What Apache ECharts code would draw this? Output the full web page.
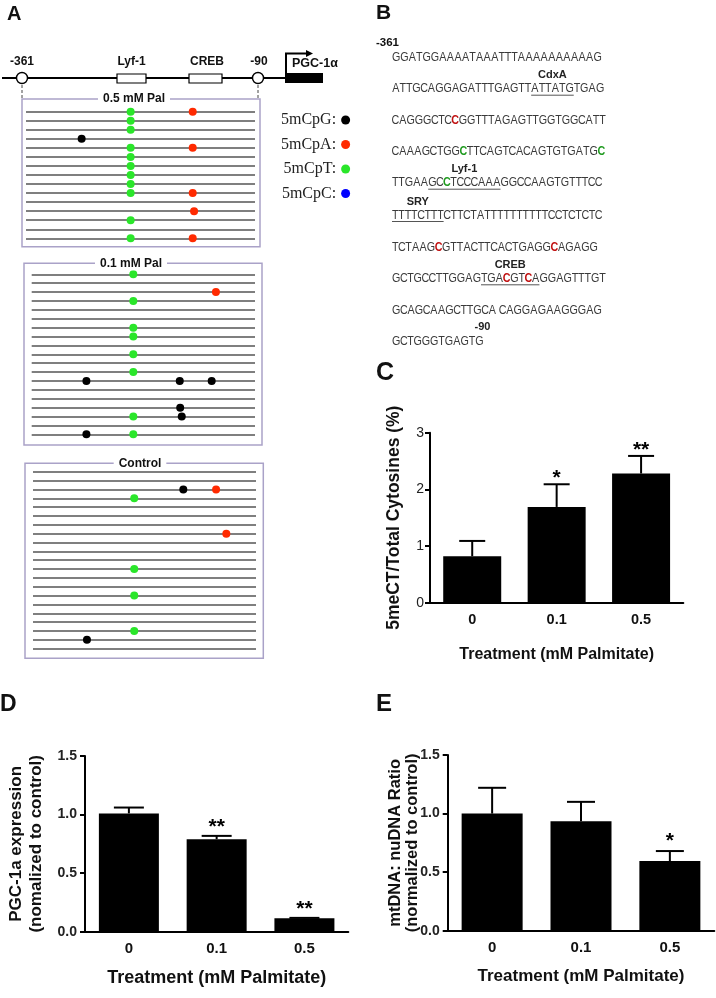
<!DOCTYPE html>
<html><head><meta charset="utf-8">
<script src="https://cdn.jsdelivr.net/npm/echarts@6/dist/echarts.min.js"></script>
<style>html,body{margin:0;padding:0;background:#fff}#c{width:716px;height:998px}</style>
</head><body><div id="c"></div>
<script>
// ---------------- DATA ----------------
const treatments = ['0', '0.1', '0.5'];
// Panel C: 5meCT / total cytosines (%)
const methPct = [0.82, 1.69, 2.28];
const methPctErr = [0.27, 0.40, 0.31];
const methPctStars = ['', '*', '**'];
// Panel D: PGC-1a expression
const pgcExpr = [1.01, 0.79, 0.114];
const pgcExprErr = [0.05, 0.028, 0.004];
const pgcExprStars = ['', '**', '**'];
// Panel E: mtDNA:nuDNA ratio
const mtRatio = [1.0, 0.935, 0.595];
const mtRatioErr = [0.22, 0.165, 0.085];
const mtRatioStars = ['', '', '*'];

// Panel A: methylated sites per clone  [relative position (0-100), clone row]
const siteTypes = ['5mCpG', '5mCpA', '5mCpT', '5mCpC'];
const boxTitles = ['0.5 mM Pal', '0.1 mM Pal', 'Control'];
const boxClones = [15, 19, 21];
const pal05CpG = [[24.3, 4]];
const pal05CpA = [[72.8, 1], [72.8, 5], [72.8, 10], [73.4, 12], [72.8, 15]];
const pal05CpT = [[45.7, 1], [45.7, 2], [45.7, 3], [45.7, 5], [45.7, 6], [45.7, 7], [45.7, 8], [45.7, 9], [45.7, 10], [45.7, 13], [45.7, 15]];
const pal05CpC = [];
const pal01CpG = [[24.5, 13], [66.3, 13], [80.6, 13], [66.5, 16], [67.2, 17], [24.5, 19]];
const pal01CpA = [[82.5, 3]];
const pal01CpT = [[45.5, 1], [45.5, 4], [45.5, 7], [45.5, 8], [45.5, 10], [45.5, 12], [45.5, 17], [45.5, 19]];
const pal01CpC = [];
const ctrlCpG = [[67.4, 3], [24.2, 20]];
const ctrlCpA = [[82.1, 3], [86.7, 8]];
const ctrlCpT = [[45.4, 4], [45.4, 12], [45.4, 15], [45.4, 19]];
const ctrlCpC = [];

// Panel B: promoter sequence (r = red C, g = green C, <...> = underlined site)
const seqLines = [
  'GGATGGAAAATAAATTTAAAAAAAAAAG',
  'ATTGCAGGAGATTTGAGTT<ATTATG>TGAG',
  'CAGGGCTCrGGTTTAGAGTTGGTGGCATT',
  'CAAAGCTGGgTTCAGTCACAGTGTGATGg',
  'TTGAA<GCgTCCCAAA>GGCCAAGTGTTTCC',
  '<TTTTCTTT>CTTCTATTTTTTTTTTCCTCTCTC',
  'TCTAAGrGTTACTTCACTGAGGrAGAGG',
  'GCTGCCTTGGAG<TGArGTrA>GGAGTTTGT',
  'GCAGCAAGCTTGCA CAGGAGAAGGGAG',
  'GCTGGGTGAGTG'
];
const seqSiteLabels = ['', 'CdxA', '', '', 'Lyf-1', 'SRY', '', 'CREB', '', ''];
const seqStart = '-361', seqEnd = '-90';

// ---------------- STYLE / LAYOUT ----------------
const SANS = 'Liberation Sans';
const siteColors = ['#000000', '#ff2a00', '#2ae62a', '#0000ff'];
const sitesByBox = [
  [pal05CpG, pal05CpA, pal05CpT, pal05CpC],
  [pal01CpG, pal01CpA, pal01CpT, pal01CpC],
  [ctrlCpG, ctrlCpA, ctrlCpT, ctrlCpC]
];
const boxGrids = [
  {left: 26, top: 111.7, width: 229, height: 126.6},
  {left: 31.7, top: 274.3, width: 223.3, height: 160},
  {left: 33, top: 471.7, width: 223, height: 177}
];
const boxFrames = [
  {x: 22, y: 99, w: 238, h: 147.7, tx: 134},
  {x: 24, y: 263.3, w: 238, h: 181.7, tx: 131},
  {x: 25, y: 463.3, w: 238.3, h: 195, tx: 140}
];

const grids = boxGrids.map(g => Object.assign({outerBoundsMode: 'none', containLabel: false}, g));
grids.push({left: 430, top: 432.7, width: 253.3, height: 170, outerBoundsMode: 'none'});
grids.push({left: 85, top: 756, width: 263.3, height: 175.7, outerBoundsMode: 'none'});
grids.push({left: 447.7, top: 755, width: 266.6, height: 175.7, outerBoundsMode: 'none'});

const xAxes = [], yAxes = [], series = [];
boxGrids.forEach((g, b) => {
  xAxes.push({gridIndex: b, type: 'value', min: 0, max: 100, show: false});
  yAxes.push({
    gridIndex: b, type: 'value', min: 1, max: boxClones[b], interval: 1, inverse: true,
    axisLine: {show: false}, axisTick: {show: false}, axisLabel: {show: false},
    splitLine: {show: true, showMinLine: true, showMaxLine: true, lineStyle: {color: '#555', width: 1.6}}
  });
  siteTypes.forEach((t, k) => {
    series.push({
      type: 'scatter', name: t, xAxisIndex: b, yAxisIndex: b, data: sitesByBox[b][k],
      symbol: 'circle', symbolSize: 8, itemStyle: {color: siteColors[k], opacity: 1}, z: 5, silent: true
    });
  });
});

function barPanel(idx, opts) {
  xAxes.push({
    gridIndex: idx, type: 'category', data: treatments,
    axisLine: {lineStyle: {color: '#000', width: 2}},
    axisTick: {alignWithLabel: true, length: 5, lineStyle: {color: '#000', width: 2}},
    axisLabel: {color: '#111', fontFamily: SANS, fontWeight: 'bold', fontSize: opts.xLabelSize, margin: 10},
    name: 'Treatment (mM Palmitate)', nameLocation: 'middle', nameGap: opts.xNameGap,
    nameTextStyle: {color: '#111', fontFamily: SANS, fontWeight: 'bold', fontSize: opts.xNameSize}
  });
  yAxes.push({
    gridIndex: idx, type: 'value', min: 0, max: opts.max, interval: opts.interval,
    axisLine: {show: true, lineStyle: {color: '#000', width: 2}},
    axisTick: {show: true, length: 5, lineStyle: {color: '#000', width: 2}},
    splitLine: {show: false},
    axisLabel: {color: '#222', fontFamily: SANS, fontWeight: opts.yLabelWeight, fontSize: 14, margin: opts.yLabelMargin,
      formatter: v => opts.interval < 1 ? v.toFixed(1) : String(v)},
    name: opts.yName, nameLocation: 'middle', nameGap: opts.yNameGap, nameMoveOverlap: false,
    nameTextStyle: {color: '#111', fontFamily: SANS, fontWeight: 'bold', fontSize: opts.yNameSize, lineHeight: opts.yNameLH, align: 'center'}
  });
  series.push({
    type: 'bar', xAxisIndex: idx, yAxisIndex: idx, data: opts.values, barWidth: opts.barWidth,
    itemStyle: {color: '#000'}, silent: true, z: 2
  });
  series.push({
    type: 'custom', xAxisIndex: idx, yAxisIndex: idx, clip: false, silent: true, z: 3,
    data: opts.values.map((v, i) => [i, v, opts.errs[i]]),
    encode: {x: 0, y: 1},
    renderItem: function (params, api) {
      const i = api.value(0), v = api.value(1), e = api.value(2);
      const p0 = api.coord([i, v]), p1 = api.coord([i, v + e]);
      const ch = [
        {type: 'line', shape: {x1: p0[0], y1: p0[1], x2: p1[0], y2: p1[1]}, style: {stroke: '#000', lineWidth: 2}},
        {type: 'line', shape: {x1: p1[0] - opts.capW / 2, y1: p1[1], x2: p1[0] + opts.capW / 2, y2: p1[1]}, style: {stroke: '#000', lineWidth: 2}}
      ];
      const s = opts.stars[params.dataIndex];
      if (s) ch.push({type: 'text', x: p1[0], y: p1[1] + opts.starDy, style: {text: s, fill: '#000', font: 'bold 21px ' + SANS, align: 'center', verticalAlign: 'middle'}});
      return {type: 'group', children: ch};
    }
  });
}
barPanel(3, {values: methPct, errs: methPctErr, stars: methPctStars, max: 3, interval: 1, barWidth: 58, capW: 26, starDy: -6,
  yName: '5meCT/Total Cytosines (%)', yNameGap: 27, yNameSize: 17.5, yNameLH: 18, yLabelWeight: 'normal', yLabelMargin: 6,
  xLabelSize: 14.5, xNameGap: 44, xNameSize: 16});
barPanel(4, {values: pgcExpr, errs: pgcExprErr, stars: pgcExprStars, max: 1.5, interval: 0.5, barWidth: 60, capW: 30, starDy: -9,
  yName: 'PGC-1a expression\n(nomalized to control)', yNameGap: 39, yNameSize: 17, yNameLH: 20, yLabelWeight: 'bold', yLabelMargin: 8,
  xLabelSize: 15, xNameGap: 37, xNameSize: 18});
barPanel(5, {values: mtRatio, errs: mtRatioErr, stars: mtRatioStars, max: 1.5, interval: 0.5, barWidth: 61, capW: 28, starDy: -10,
  yName: 'mtDNA: nuDNA Ratio\n(normalized to control)', yNameGap: 27, yNameSize: 16.5, yNameLH: 16.5, yLabelWeight: 'bold', yLabelMargin: 8,
  xLabelSize: 15, xNameGap: 37, xNameSize: 17});

// ---------------- GRAPHICS (schematic + sequence) ----------------
const G = [];
function txt(x, y, s, font, opt) {
  G.push({type: 'text', x: x, y: y, z: 10,
    style: Object.assign({text: s, font: font, fill: '#111', align: 'left', verticalAlign: 'middle'}, opt || {})});
}
// panel letters
txt(7, 14, 'A', 'bold 20px ' + SANS);
txt(376, 13, 'B', 'bold 21px ' + SANS);
txt(376, 373, 'C', 'bold 25px ' + SANS);
txt(0, 705, 'D', 'bold 23px ' + SANS);
txt(376, 704, 'E', 'bold 24px ' + SANS);

// promoter schematic
G.push({type: 'line', shape: {x1: 2, y1: 78, x2: 286, y2: 78}, style: {stroke: '#000', lineWidth: 2}});
G.push({type: 'rect', shape: {x: 117, y: 74, width: 29, height: 9}, style: {fill: '#fff', stroke: '#000', lineWidth: 1.2}});
G.push({type: 'rect', shape: {x: 189, y: 74, width: 33, height: 9}, style: {fill: '#fff', stroke: '#000', lineWidth: 1.2}});
G.push({type: 'rect', shape: {x: 285, y: 73, width: 38, height: 10}, style: {fill: '#000'}});
G.push({type: 'circle', shape: {cx: 22, cy: 78, r: 5.5}, style: {fill: '#fff', stroke: '#000', lineWidth: 1.4}});
G.push({type: 'circle', shape: {cx: 258, cy: 78, r: 5.5}, style: {fill: '#fff', stroke: '#000', lineWidth: 1.4}});
G.push({type: 'polyline', shape: {points: [[286, 73], [286, 53.5], [307, 53.5]]}, style: {stroke: '#000', lineWidth: 2, fill: null}});
G.push({type: 'polygon', shape: {points: [[306, 50], [313, 53.5], [306, 57]]}, style: {fill: '#000'}});
G.push({type: 'line', shape: {x1: 22, y1: 85, x2: 22, y2: 99}, style: {stroke: '#444', lineWidth: 1, lineDash: [3, 2]}});
G.push({type: 'line', shape: {x1: 258, y1: 85, x2: 258, y2: 99}, style: {stroke: '#444', lineWidth: 1, lineDash: [3, 2]}});
txt(22, 62, '-361', 'bold 12px ' + SANS, {align: 'center'});
txt(131.5, 62, 'Lyf-1', 'bold 12px ' + SANS, {align: 'center'});
txt(207, 62, 'CREB', 'bold 12px ' + SANS, {align: 'center'});
txt(259, 62, '-90', 'bold 12px ' + SANS, {align: 'center'});
txt(292, 63.5, 'PGC-1\u03b1', 'bold 12.5px ' + SANS);

// clone boxes
boxFrames.forEach((f, b) => {
  G.push({type: 'rect', z: 1, shape: {x: f.x, y: f.y, width: f.w, height: f.h}, style: {fill: null, stroke: '#aaa2c8', lineWidth: 1.5}});
  txt(f.tx, f.y, boxTitles[b], 'bold 12px ' + SANS, {align: 'center', backgroundColor: '#fff', padding: [1, 5]});
});

// sequence panel: glyphs placed on Calibri-like advance widths
const CAL_W = {A: 0.579, C: 0.533, G: 0.631, T: 0.487, ' ': 0.226};
const SEQ_SIZE = 13.1, SQX = 0.82;
const seqX = 392, seqY = [57, 88.7, 120, 151.7, 182.7, 215, 247.3, 278.3, 310, 341.7];
function glyph(x, y, ch, bold, color) {
  const w = CAL_W[ch] * SEQ_SIZE;
  if (ch !== ' ') G.push({type: 'text', x: x + w / 2, y: y, scaleX: SQX, z: 10,
    style: {text: ch, font: (bold ? 'bold ' : '') + SEQ_SIZE + 'px ' + SANS, fill: color, align: 'center', verticalAlign: 'middle'}});
  return w;
}
txt(376, 42.7, seqStart, 'bold 11.5px ' + SANS);
seqLines.forEach((line, li) => {
  const y = seqY[li];
  let x = seqX, ulStart = null;
  for (const ch of line) {
    if (ch === '<') { ulStart = x; }
    else if (ch === '>') {
      G.push({type: 'line', shape: {x1: ulStart, y1: y + 6.5, x2: x, y2: y + 6.5}, style: {stroke: '#555', lineWidth: 1}});
      if (seqSiteLabels[li]) txt((ulStart + x) / 2, y - 13.5, seqSiteLabels[li], 'bold 11px ' + SANS, {align: 'center', fill: '#222'});
    }
    else if (ch === 'r') x += glyph(x, y, 'C', true, '#c01010');
    else if (ch === 'g') x += glyph(x, y, 'C', true, '#1f9a1f');
    else x += glyph(x, y, ch, false, '#3a3a3a');
  }
  if (li === seqLines.length - 1) txt(x - 9, y - 15, seqEnd, 'bold 11px ' + SANS, {fill: '#222'});
});

// ---------------- CHART ----------------
const chart = echarts.init(document.getElementById('c'), null, {renderer: 'canvas', width: 716, height: 998});
chart.setOption({
  animation: false,
  backgroundColor: '#fff',
  grid: grids,
  xAxis: xAxes,
  yAxis: yAxes,
  legend: {
    data: siteTypes, left: 281, top: 112, orient: 'vertical', align: 'right', padding: 0,
    itemGap: 8.5, itemWidth: 9, itemHeight: 9, icon: 'circle', selectedMode: false,
    formatter: n => n + ':',
    itemStyle: {opacity: 1},
    textStyle: {fontFamily: 'Liberation Serif', fontSize: 16, lineHeight: 16, color: '#222'}
  },
  graphic: G,
  series: series
});
</script></body></html>
